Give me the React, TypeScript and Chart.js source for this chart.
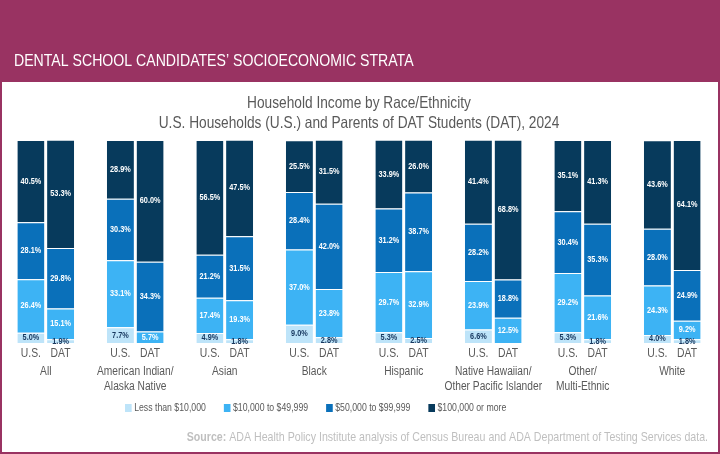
import React, { useEffect, useRef } from "react";
import { Chart, registerables } from "chart.js";

Chart.register(...registerables);

// ---------- data ----------
const CATEGORIES: string[][] = [
  ["All"],
  ["American Indian/", "Alaska Native"],
  ["Asian"],
  ["Black"],
  ["Hispanic"],
  ["Native Hawaiian/", "Other Pacific Islander"],
  ["Other/", "Multi-Ethnic"],
  ["White"],
];
const GROUPS = ["U.S.", "DAT"];
const INCOME_LEVELS = [
  "Less than $10,000",
  "$10,000 to $49,999",
  "$50,000 to $99,999",
  "$100,000 or more",
];

const US_LT10K = [5.0, 7.7, 4.9, 9.0, 5.3, 6.6, 5.3, 4.0];
const US_10K_50K = [26.4, 33.1, 17.4, 37.0, 29.7, 23.9, 29.2, 24.3];
const US_50K_100K = [28.1, 30.3, 21.2, 28.4, 31.2, 28.2, 30.4, 28.0];
const US_100K_PLUS = [40.5, 28.9, 56.5, 25.5, 33.9, 41.4, 35.1, 43.6];

const DAT_LT10K = [1.9, 0, 1.8, 2.8, 2.5, 0, 1.8, 1.8];
const DAT_10K_50K = [15.1, 5.7, 19.3, 23.8, 32.9, 12.5, 21.6, 9.2];
const DAT_50K_100K = [29.8, 34.3, 31.5, 42.0, 38.7, 18.8, 35.3, 24.9];
const DAT_100K_PLUS = [53.3, 60.0, 47.5, 31.5, 26.0, 68.8, 41.3, 64.1];

const HEADER_TITLE = "DENTAL SCHOOL CANDIDATES\u2019 SOCIOECONOMIC STRATA";
const CHART_TITLE = [
  "Household Income by Race/Ethnicity",
  "U.S. Households (U.S.) and Parents of DAT Students (DAT), 2024",
];
const SOURCE_BOLD = "Source:";
const SOURCE_TEXT =
  " ADA Health Policy Institute analysis of Census Bureau and ADA Department of Testing Services data.";

// ---------- style ----------
const COLORS = ["#BEE4F9", "#3DB3F4", "#0A70BA", "#073A5C"];
const HEADER_COLOR = "#993362";
const TEXT_GRAY = "#595959";
const SOURCE_GRAY = "#BFBFBF";
const FONT = '"Liberation Sans", Arial, sans-serif';
const SX = 0.83; // horizontal squeeze of the reference image

function drawText(
  ctx: CanvasRenderingContext2D,
  text: string,
  x: number,
  y: number,
  font: string,
  color: string,
  align: CanvasTextAlign = "center",
  baseline: CanvasTextBaseline = "middle"
) {
  ctx.save();
  ctx.font = font;
  ctx.fillStyle = color;
  ctx.textAlign = align;
  ctx.textBaseline = baseline;
  ctx.translate(x, y);
  ctx.scale(SX, 1);
  ctx.fillText(text, 0, 0);
  ctx.restore();
}

const framePlugin = {
  id: "frame",
  beforeDraw(chart: any) {
    const ctx: CanvasRenderingContext2D = chart.ctx;
    const W = chart.width;
    const H = chart.height;
    ctx.save();
    ctx.fillStyle = "#FFFFFF";
    ctx.fillRect(0, 0, W, H);
    ctx.fillStyle = HEADER_COLOR;
    ctx.fillRect(0, 0, W, 82);
    ctx.fillRect(0, 82, 2, H - 82);
    ctx.fillRect(W - 2, 82, 2, H - 82);
    ctx.fillRect(0, H - 2, W, 2);
    ctx.restore();
    drawText(ctx, HEADER_TITLE, 14, 66, `17px ${FONT}`, "#FFFFFF", "left", "alphabetic");
    const ca = chart.chartArea;
    const cx = (ca.left + ca.right) / 2;
    drawText(ctx, CHART_TITLE[0], cx, 103, `16.5px ${FONT}`, TEXT_GRAY);
    drawText(ctx, CHART_TITLE[1], cx, 123, `16.5px ${FONT}`, TEXT_GRAY);
  },
  afterDatasetsDraw(chart: any) {
    const ctx: CanvasRenderingContext2D = chart.ctx;
    const ca = chart.chartArea;
    // value labels
    chart.data.datasets.forEach((ds: any, di: number) => {
      const meta = chart.getDatasetMeta(di);
      meta.data.forEach((el: any, i: number) => {
        const v = ds.data[i];
        if (!v) return;
        const p = el.getProps(["x", "y", "base"], true);
        const y = (p.y + p.base) / 2;
        const color = ds.level === 0 ? "#17375E" : "#FFFFFF";
        drawText(ctx, v.toFixed(1) + "%", p.x, y, `bold 8.8px ${FONT}`, color);
      });
    });
    // group labels under each bar
    const firstOf = (g: string) =>
      chart.data.datasets.findIndex((d: any) => d.stack === g);
    GROUPS.forEach((g) => {
      const meta = chart.getDatasetMeta(firstOf(g));
      meta.data.forEach((el: any) => {
        drawText(ctx, g, el.x, ca.bottom + 11, `12.5px ${FONT}`, TEXT_GRAY);
      });
    });
    // category labels
    const xs = chart.scales.x;
    CATEGORIES.forEach((lines, i) => {
      const x = xs.getPixelForValue(i);
      lines.forEach((ln, li) => {
        drawText(ctx, ln, x, ca.bottom + 28.5 + li * 15, `12.3px ${FONT}`, TEXT_GRAY);
      });
    });
    // legend
    let lx = 125;
    const ly = ca.bottom + 65;
    const legendFont = `10.5px ${FONT}`;
    INCOME_LEVELS.forEach((lab, i) => {
      ctx.save();
      ctx.fillStyle = COLORS[i];
      ctx.fillRect(lx, ly - 4, 8 * SX, 8);
      ctx.restore();
      lx += 8 * SX + 2.5;
      drawText(ctx, lab, lx, ly, legendFont, TEXT_GRAY, "left");
      ctx.save();
      ctx.font = legendFont;
      const w = ctx.measureText(lab).width * SX;
      ctx.restore();
      lx += w + 18;
    });
    // source
    const right = 708;
    const sy = ca.bottom + 94;
    ctx.save();
    const boldFont = `bold 12.8px ${FONT}`;
    const regFont = `12.8px ${FONT}`;
    ctx.font = regFont;
    const wReg = ctx.measureText(SOURCE_TEXT).width * SX;
    ctx.restore();
    drawText(ctx, SOURCE_TEXT, right, sy, regFont, SOURCE_GRAY, "right");
    drawText(ctx, SOURCE_BOLD, right - wReg, sy, boldFont, SOURCE_GRAY, "right");
  },
};

export default function App() {
  const ref = useRef<HTMLCanvasElement | null>(null);

  useEffect(() => {
    if (!ref.current) return;
    const usSeries = [US_LT10K, US_10K_50K, US_50K_100K, US_100K_PLUS];
    const datSeries = [DAT_LT10K, DAT_10K_50K, DAT_50K_100K, DAT_100K_PLUS];
    const datasets: any[] = [];
    usSeries.forEach((d, i) =>
      datasets.push({
        label: INCOME_LEVELS[i],
        data: d,
        stack: "U.S.",
        level: i,
        backgroundColor: COLORS[i],
        borderColor: "rgba(255,255,255,0.85)",
        borderWidth: { top: 1, left: 0, right: 0, bottom: 0 },
        borderSkipped: false,
      })
    );
    datSeries.forEach((d, i) =>
      datasets.push({
        label: INCOME_LEVELS[i],
        data: d,
        stack: "DAT",
        level: i,
        backgroundColor: COLORS[i],
        borderColor: "rgba(255,255,255,0.85)",
        borderWidth: { top: 1, left: 0, right: 0, bottom: 0 },
        borderSkipped: false,
      })
    );

    const chart = new Chart(ref.current, {
      type: "bar",
      data: {
        labels: CATEGORIES.map((c) => c.join(" ")),
        datasets,
      },
      options: {
        responsive: false,
        animation: false,
        devicePixelRatio: 1,
        categoryPercentage: 0.664,
        barPercentage: 0.91,
        layout: { padding: { left: 1, right: 3, top: 140, bottom: 111 } },
        scales: {
          x: { display: false, stacked: true },
          y: { display: false, stacked: true, min: 0, max: 100 },
        },
        plugins: {
          legend: { display: false },
          title: { display: false },
          tooltip: { enabled: false },
        },
      } as any,
      plugins: [framePlugin],
    });
    return () => chart.destroy();
  }, []);

  return (
    <div style={{ position: "fixed", left: 0, top: 0, width: 720, height: 454 }}>
      <canvas ref={ref} width={720} height={454} style={{ display: "block" }} />
    </div>
  );
}
